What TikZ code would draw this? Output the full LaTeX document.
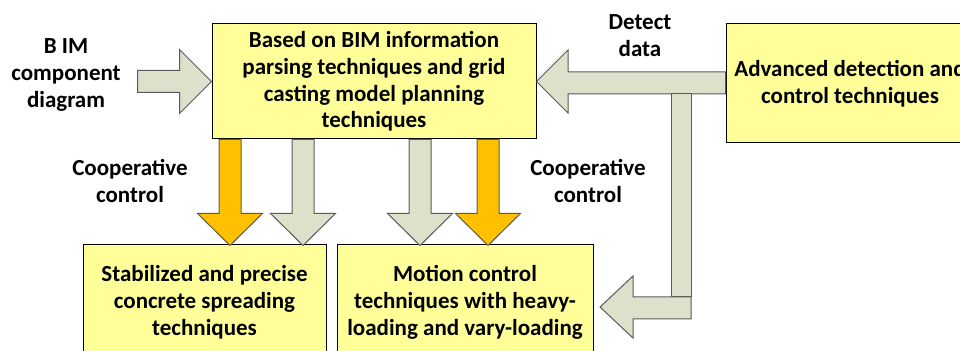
\documentclass[tikz,border=0pt]{standalone}
\usepackage{fontspec}
\setmainfont{Carlito}
\usetikzlibrary{positioning, calc}
\definecolor{cyellow}{HTML}{FFFF99}
\definecolor{cgrey}{HTML}{DDE0CA}
\definecolor{corange}{HTML}{FFC000}
\definecolor{cedge}{HTML}{5A5A5A}
\tikzset{
  every picture/.style={font=\bfseries\fontsize{11.5}{13.4}\selectfont, line width=0.5pt},
  box/.style={draw=black, fill=cyellow, align=center, inner sep=0pt, minimum width=#1},
  lbl/.style={align=center, inner sep=0pt},
  greyarrow/.style={fill=cgrey, draw=cedge, line join=miter},
  orangearrow/.style={fill=corange, draw=cedge, line join=miter},
}
\begin{document}
\begin{tikzpicture}[x=0.5pt, y=-0.5pt]
  \useasboundingbox (0,0) rectangle (960,351);
  \clip (0,0) rectangle (960,351);
  % technique boxes
  \node[box=162pt, minimum height=57.5pt] (plan) at (374,81.5) {Based on BIM information\\parsing techniques and grid\\casting model planning\\techniques};
  \node[box=124pt, minimum height=59.5pt] (detect) at (850,83.5) {Advanced detection and\\control techniques};
  \node[box=121.5pt, minimum height=57.5pt] (spread) at (204.5,302.5) {Stabilized and precise\\concrete spreading\\techniques};
  \node[box=128pt, minimum height=57.5pt] (motion) at (465,302.5) {Motion control\\techniques with heavy-\\loading and vary-loading};
  % labels
  \node[lbl] (bim) at (66,75) {B IM\\component\\diagram};
  \node[lbl] (detdata) at (640,36) {Detect\\data};
  \node[lbl] (coopL) at (130,181) {Cooperative\\control};
  \node[lbl] (coopR) at (588,181) {Cooperative\\control};
  % block arrows
  \draw[greyarrow] (plan.west) -- ++(-32,-32) -- ++(0,21) -- ++(-42,0) -- ++(0,22) -- ++(42,0) -- ++(0,21) -- cycle;
  \draw[greyarrow] (plan.east) -- (568,50) -- (568,72) -- (detect.west |- 0,72) -- (detect.west |- 0,94) -- (568,94) -- (568,113) -- cycle;
  \coordinate (hit) at (600,307);
  \draw[greyarrow] (671,94) rectangle (691,297);
  \draw[greyarrow] (691,297) -- (633,297) -- (633,276) -- (hit) -- (633,338) -- (633,319) -- (691,319) -- cycle;
  \foreach \x/\c in {230/orangearrow, 303/greyarrow, 420/greyarrow, 488/orangearrow}
    \draw[\c, shift={(\x,0 |- plan.south)}] (-11,0) -- (11,0) -- (11,74) -- (32.5,74) -- (0,106) -- (-32.5,74) -- (-11,74) -- cycle;
\end{tikzpicture}
\end{document}
